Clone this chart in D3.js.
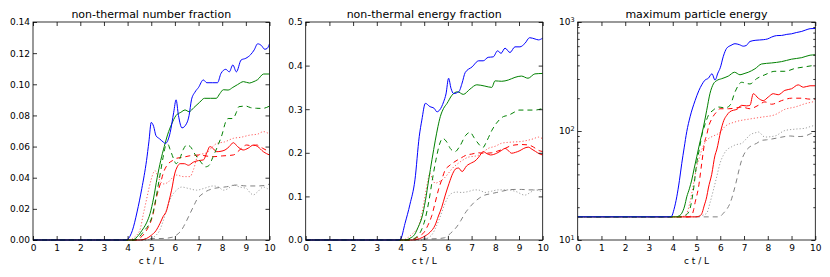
<!DOCTYPE html>
<html><head><meta charset="utf-8">
<script src="https://cdn.jsdelivr.net/npm/d3@7"></script>
<style>
html,body{margin:0;padding:0;background:#fff;}
svg{display:block;font-family:"DejaVu Sans",sans-serif;}
</style></head>
<body>
<svg id="chart" width="830" height="277"></svg>
<script>
// ---------- data: [c t / L, value] ----------
// Panel 1: non-thermal number fraction
const nfBlue = [[0,0],[3.9,0],[4.0,0.0005],[4.2,0.006],[4.4,0.018],[4.6,0.033],[4.8,0.051],[4.9,0.063],[5.0,0.0755],[5.1,0.073],[5.2,0.067],[5.35,0.065],[5.5,0.063],[5.6,0.062],[5.8,0.069],[5.95,0.082],[6.05,0.090],[6.15,0.080],[6.3,0.072],[6.5,0.075],[6.6,0.080],[6.7,0.090],[6.85,0.095],[7.0,0.098],[7.2,0.1028],[7.35,0.101],[7.6,0.101],[7.8,0.101],[7.95,0.107],[8.15,0.1096],[8.3,0.108],[8.45,0.1124],[8.6,0.108],[8.8,0.1156],[9.0,0.1167],[9.2,0.119],[9.35,0.122],[9.5,0.126],[9.65,0.125],[9.8,0.1225],[9.9,0.123],[10,0.126]];
const nfGreen = [[0,0],[4.2,0],[4.4,0.002],[4.6,0.006],[4.8,0.011],[4.95,0.017],[5.1,0.027],[5.25,0.040],[5.4,0.051],[5.55,0.060],[5.7,0.068],[5.85,0.074],[6.05,0.080],[6.25,0.082],[6.43,0.0835],[6.6,0.0824],[6.8,0.085],[7.05,0.0885],[7.25,0.091],[7.5,0.091],[7.75,0.091],[7.9,0.094],[8.05,0.0965],[8.25,0.0963],[8.45,0.098],[8.65,0.0998],[8.9,0.1017],[9.15,0.1008],[9.3,0.1015],[9.5,0.103],[9.75,0.1066],[10,0.1066]];
const nfGreenDash = [[0,0],[4.3,0],[4.5,0.002],[4.7,0.006],[4.9,0.010],[5.05,0.016],[5.2,0.027],[5.35,0.040],[5.5,0.053],[5.6,0.060],[5.7,0.0615],[5.8,0.058],[5.95,0.052],[6.05,0.049],[6.2,0.052],[6.35,0.058],[6.5,0.061],[6.65,0.060],[6.85,0.055],[7.1,0.050],[7.3,0.047],[7.45,0.048],[7.6,0.053],[7.8,0.060],[8.0,0.068],[8.15,0.076],[8.25,0.078],[8.45,0.078],[8.6,0.082],[8.7,0.0856],[9.0,0.086],[9.2,0.085],[9.45,0.0846],[9.7,0.0845],[10,0.086]];
const nfRed = [[0,0],[4.5,0],[4.8,0.001],[5.0,0.003],[5.2,0.006],[5.37,0.0107],[5.5,0.015],[5.65,0.019],[5.75,0.025],[5.86,0.032],[6.0,0.043],[6.1,0.047],[6.22,0.049],[6.4,0.049],[6.57,0.048],[6.78,0.050],[7.0,0.051],[7.2,0.0514],[7.35,0.056],[7.48,0.060],[7.6,0.059],[7.77,0.0567],[7.95,0.057],[8.12,0.0578],[8.3,0.060],[8.47,0.0625],[8.65,0.060],[8.89,0.0578],[9.1,0.059],[9.32,0.061],[9.5,0.060],[9.74,0.0567],[10,0.0546]];
const nfRedDash = [[0,0],[4.3,0],[4.5,0.001],[4.7,0.004],[4.9,0.009],[5.05,0.015],[5.23,0.028],[5.4,0.037],[5.51,0.043],[5.72,0.049],[5.9,0.051],[6.07,0.0525],[6.3,0.053],[6.6,0.054],[7.06,0.0546],[7.3,0.054],[7.62,0.0535],[8.0,0.054],[8.47,0.0546],[8.75,0.058],[9.03,0.061],[9.25,0.0605],[9.46,0.061],[9.7,0.059],[10,0.0567]];
const nfRedDot = [[0,0],[4.1,0],[4.3,0.002],[4.52,0.0064],[4.67,0.017],[4.8,0.026],[4.9,0.033],[5.0,0.039],[5.1,0.0435],[5.16,0.0445],[5.3,0.040],[5.51,0.036],[5.7,0.037],[5.9,0.040],[6.07,0.0417],[6.36,0.0407],[6.64,0.0407],[6.78,0.045],[6.99,0.0546],[7.34,0.056],[7.6,0.060],[7.77,0.062],[8.1,0.063],[8.47,0.0653],[8.8,0.066],[9.18,0.0674],[9.5,0.068],[9.74,0.0696],[10,0.068]];
const nfGrayDash = [[0,0],[4.6,0],[4.8,0.0008],[5.5,0.001],[5.9,0.0018],[6.05,0.003],[6.28,0.0064],[6.45,0.011],[6.64,0.017],[6.8,0.022],[6.92,0.0257],[7.2,0.030],[7.62,0.033],[8.19,0.0342],[8.61,0.0353],[9.03,0.0347],[9.46,0.0347],[9.8,0.035],[10,0.036]];
const nfGrayDot = [[0,0],[4.8,0],[5.0,0.001],[5.2,0.003],[5.35,0.006],[5.5,0.012],[5.7,0.022],[5.86,0.028],[6.07,0.032],[6.28,0.034],[6.6,0.033],[6.92,0.032],[7.2,0.033],[7.62,0.0347],[7.85,0.034],[8.05,0.032],[8.25,0.033],[8.47,0.0353],[8.75,0.034],[9.03,0.033],[9.2,0.030],[9.32,0.029],[9.5,0.031],[9.74,0.034],[10,0.032]];

// Panel 2: non-thermal energy fraction
const efBlue = [[0,0],[3.9,0],[4.0,0.002],[4.19,0.038],[4.4,0.082],[4.61,0.138],[4.79,0.237],[4.9,0.275],[5.05,0.3135],[5.24,0.306],[5.42,0.302],[5.54,0.294],[5.65,0.298],[5.82,0.317],[5.92,0.335],[6.03,0.371],[6.13,0.348],[6.24,0.336],[6.46,0.340],[6.6,0.36],[6.73,0.384],[7.02,0.397],[7.3,0.411],[7.49,0.411],[7.7,0.419],[7.91,0.420],[8.1,0.434],[8.24,0.428],[8.41,0.44],[8.62,0.43],[8.83,0.443],[9.04,0.443],[9.25,0.451],[9.45,0.464],[9.68,0.461],[9.82,0.459],[10,0.463]];
const efGreen = [[0,0],[4.2,0],[4.4,0.004],[4.6,0.013],[4.75,0.03],[4.91,0.053],[5.05,0.09],[5.19,0.138],[5.33,0.185],[5.47,0.229],[5.58,0.26],[5.68,0.283],[5.82,0.302],[5.96,0.313],[6.17,0.332],[6.41,0.340],[6.65,0.334],[6.93,0.346],[7.22,0.356],[7.56,0.353],[7.85,0.350],[7.99,0.365],[8.27,0.364],[8.55,0.367],[8.83,0.373],[9.1,0.376],[9.38,0.371],[9.67,0.381],[10,0.382]];
const efGreenDash = [[0,0],[4.35,0],[4.5,0.002],[4.7,0.008],[4.9,0.025],[5.05,0.05],[5.2,0.09],[5.35,0.14],[5.5,0.185],[5.65,0.22],[5.78,0.233],[5.95,0.225],[6.1,0.21],[6.3,0.2026],[6.5,0.215],[6.75,0.24],[6.94,0.247],[7.1,0.235],[7.3,0.22],[7.47,0.212],[7.65,0.228],[7.86,0.252],[8.05,0.268],[8.34,0.283],[8.55,0.286],[8.83,0.294],[9.0,0.298],[9.25,0.298],[9.67,0.298],[10,0.302]];
const efRed = [[0,0],[4.5,0],[4.8,0.003],[5.03,0.009],[5.25,0.018],[5.46,0.034],[5.6,0.055],[5.74,0.075],[5.89,0.103],[6.05,0.13],[6.2,0.152],[6.35,0.164],[6.45,0.165],[6.6,0.157],[6.79,0.170],[7.0,0.177],[7.14,0.181],[7.3,0.19],[7.49,0.2026],[7.65,0.198],[7.8,0.195],[8.06,0.199],[8.25,0.205],[8.41,0.210],[8.55,0.205],[8.69,0.199],[8.85,0.201],[9.04,0.205],[9.2,0.21],[9.39,0.213],[9.55,0.208],[9.7,0.203],[9.85,0.198],[10,0.195]];
const efRedDash = [[0,0],[4.4,0],[4.6,0.003],[4.8,0.009],[5.0,0.018],[5.15,0.033],[5.32,0.056],[5.46,0.085],[5.6,0.115],[5.75,0.14],[5.88,0.16],[6.05,0.17],[6.3,0.18],[6.55,0.188],[6.79,0.195],[7.0,0.197],[7.28,0.2],[7.55,0.199],[7.85,0.2],[8.1,0.204],[8.41,0.210],[8.6,0.215],[8.83,0.218],[9.1,0.219],[9.39,0.218],[9.55,0.215],[9.7,0.21],[9.85,0.205],[10,0.203]];
const efRedDot = [[0,0],[4.1,0],[4.3,0.005],[4.5,0.014],[4.65,0.022],[4.75,0.030],[4.9,0.06],[5.03,0.099],[5.15,0.135],[5.24,0.153],[5.35,0.14],[5.46,0.13],[5.6,0.133],[5.74,0.137],[5.9,0.145],[6.02,0.153],[6.2,0.165],[6.44,0.176],[6.65,0.184],[6.86,0.190],[7.1,0.192],[7.28,0.194],[7.5,0.202],[7.7,0.21],[8.0,0.215],[8.27,0.222],[8.55,0.224],[8.83,0.225],[9.1,0.226],[9.39,0.229],[9.6,0.232],[9.82,0.236],[10,0.232]];
const efGrayDash = [[0,0],[4.6,0],[4.8,0.002],[5.5,0.003],[5.85,0.005],[6.02,0.011],[6.2,0.02],[6.37,0.030],[6.55,0.045],[6.72,0.061],[6.9,0.074],[7.14,0.088],[7.35,0.097],[7.56,0.103],[7.8,0.106],[8.06,0.109],[8.3,0.112],[8.55,0.115],[8.83,0.116],[9.11,0.116],[9.4,0.115],[9.68,0.115],[10,0.116]];
const efGrayDot = [[0,0],[4.8,0],[5.0,0.002],[5.2,0.006],[5.35,0.014],[5.5,0.03],[5.65,0.05],[5.75,0.065],[5.88,0.084],[6.0,0.098],[6.16,0.107],[6.37,0.11],[6.58,0.109],[6.85,0.111],[7.14,0.115],[7.35,0.114],[7.56,0.109],[7.85,0.112],[8.13,0.115],[8.55,0.115],[8.75,0.113],[8.97,0.109],[9.1,0.105],[9.25,0.103],[9.45,0.108],[9.68,0.115],[9.85,0.113],[10,0.110]];

// Panel 3: maximum particle energy (log scale)
const meBlue = [[0,16.3],[3.85,16.3],[3.95,16.5],[4.05,19],[4.17,24.9],[4.28,35],[4.38,50.5],[4.48,70],[4.59,98.6],[4.73,135],[4.94,190],[5.1,235],[5.22,265],[5.35,292],[5.5,305],[5.65,335],[5.78,293],[5.9,340],[6.0,380],[6.13,485],[6.27,574],[6.45,610],[6.62,632],[6.8,620],[6.97,600],[7.1,610],[7.25,663],[7.5,680],[7.81,688],[8.0,700],[8.16,727],[8.37,750],[8.58,753],[8.8,770],[9.0,779],[9.2,800],[9.43,820],[9.6,845],[9.78,868],[10,872]];
const meGreen = [[0,16.3],[4.15,16.3],[4.25,16.6],[4.38,17.6],[4.5,20.5],[4.59,24.9],[4.7,29.5],[4.8,35.5],[4.9,45],[5.01,58],[5.15,80],[5.29,108],[5.43,155],[5.57,222],[5.71,270],[5.85,290],[6.06,302],[6.34,319],[6.6,346],[6.83,328],[7.0,336],[7.18,346],[7.46,372],[7.74,412],[8.16,421],[8.58,433],[9.0,456],[9.43,471],[9.78,496],[10,500]];
const meGreenDash = [[0,16.3],[4.35,16.3],[4.5,16.7],[4.6,17.2],[4.73,19.5],[4.87,28.7],[5.01,50.5],[5.12,68],[5.22,90],[5.36,115],[5.5,139],[5.7,155],[5.92,166],[6.2,163],[6.41,172],[6.62,228],[6.9,280],[7.05,275],[7.25,270],[7.53,302],[7.88,328],[8.3,353],[8.72,353],[9.15,375],[9.57,388],[10,402]];
const meRed = [[0,16.3],[4.95,16.3],[5.1,16.5],[5.22,17.4],[5.32,20.5],[5.43,24.9],[5.5,30],[5.64,40],[5.78,60],[5.85,67],[6.02,100],[6.15,125],[6.27,139],[6.4,150],[6.55,155],[6.7,158],[6.9,172],[7.1,170],[7.25,172],[7.39,220],[7.6,200],[7.81,190],[8.02,205],[8.23,220],[8.44,215],[8.72,236],[9.0,244],[9.28,265],[9.5,252],[9.78,260],[10,260]];
const meRedDash = [[0,16.3],[4.65,16.3],[4.8,16.8],[4.88,19],[4.94,22],[5.08,30],[5.22,50.5],[5.36,82],[5.43,92],[5.5,108],[5.64,129],[5.85,150],[5.99,160],[6.34,160],[6.62,162],[6.9,166],[7.25,160],[7.6,172],[7.88,185],[8.16,176],[8.58,190],[9.0,200],[9.43,200],[9.78,196],[10,196]];
const meRedDot = [[0,16.3],[4.4,16.3],[4.5,16.8],[4.59,17.6],[4.7,21],[4.8,26.8],[4.9,35],[5.01,47],[5.12,57],[5.22,67],[5.35,78],[5.5,85],[5.71,90],[5.99,97],[6.2,110],[6.62,121],[7.25,129],[7.74,134],[8.3,141],[8.72,158],[9.15,166],[9.57,178],[10,187]];
const meGrayDash = [[0,16.3],[5.9,16.3],[6.02,16.6],[6.13,17.6],[6.3,19.5],[6.41,21.7],[6.55,27],[6.69,35.5],[6.8,45],[6.9,54],[7.11,67],[7.3,73],[7.53,77],[7.74,82],[7.95,83],[8.37,86],[8.6,88],[8.94,90],[9.2,89],[9.36,89],[9.57,90],[9.78,94],[10,98]];
const meGrayDot = [[0,16.3],[4.95,16.3],[5.1,16.5],[5.3,17],[5.43,17.6],[5.57,22],[5.71,28.7],[5.85,38],[5.99,50.5],[6.13,60],[6.27,67],[6.45,71],[6.62,74.4],[6.9,77],[7.1,85],[7.25,92],[7.53,97],[7.6,98],[7.88,88],[8.3,90],[8.72,101],[9.15,104],[9.57,106],[9.8,110],[10,113]];

// ticks / labels
const titles = ["non-thermal number fraction","non-thermal energy fraction","maximum particle energy"];
const xTicks = [0,1,2,3,4,5,6,7,8,9,10];
const yTicks1 = [0,0.02,0.04,0.06,0.08,0.10,0.12,0.14];
const yTicks2 = [0,0.1,0.2,0.3,0.4,0.5];
const yTicks3 = [10,100,1000];
const xLabel = "c t / L";

// styles per series key
const styles = {
  blue:{stroke:"#0000ff",dash:null},
  green:{stroke:"#008000",dash:null},
  greenDash:{stroke:"#008000",dash:"5,4"},
  red:{stroke:"#ff0000",dash:null},
  redDash:{stroke:"#ff0000",dash:"5,4"},
  redDot:{stroke:"#ff5c5c",dash:"1.2,2"},
  grayDash:{stroke:"#808080",dash:"5,4"},
  grayDot:{stroke:"#a0a0a0",dash:"1.2,2"}
};

const panels = [
  {x0:33, x1:269.5, title:titles[0], yDomain:[0,0.14], ticks:yTicks1, fmt:d3.format(".2f"), log:false,
   series:{grayDot:nfGrayDot,grayDash:nfGrayDash,redDot:nfRedDot,redDash:nfRedDash,red:nfRed,greenDash:nfGreenDash,green:nfGreen,blue:nfBlue}},
  {x0:305.7, x1:542.7, title:titles[1], yDomain:[0,0.5], ticks:yTicks2, fmt:d3.format(".1f"), log:false,
   series:{grayDot:efGrayDot,grayDash:efGrayDash,redDot:efRedDot,redDash:efRedDash,red:efRed,greenDash:efGreenDash,green:efGreen,blue:efBlue}},
  {x0:577.7, x1:815.3, title:titles[2], yDomain:[10,1000], ticks:yTicks3, fmt:null, log:true,
   series:{grayDot:meGrayDot,grayDash:meGrayDash,redDot:meRedDot,redDash:meRedDash,red:meRed,greenDash:meGreenDash,green:meGreen,blue:meBlue}}
];

const plotTop = 22, plotBottom = 240;
const svg = d3.select("#chart");

panels.forEach((p,i)=>{
  const x = d3.scaleLinear().domain([0,10]).range([p.x0,p.x1]);
  const y = p.log ? d3.scaleLog().domain(p.yDomain).range([plotBottom,plotTop])
                  : d3.scaleLinear().domain(p.yDomain).range([plotBottom,plotTop]);
  const g = svg.append("g");
  const clipId = "clip"+i;
  svg.append("clipPath").attr("id",clipId).append("rect")
    .attr("x",p.x0).attr("y",plotTop-1).attr("width",p.x1-p.x0).attr("height",plotBottom-plotTop+2);

  const line = d3.line().x(d=>x(d[0])).y(d=>y(d[1])).curve(d3.curveMonotoneX);
  const lg = g.append("g").attr("clip-path",`url(#${clipId})`);
  Object.entries(p.series).forEach(([k,data])=>{
    const s = styles[k];
    lg.append("path").datum(data).attr("d",line)
      .attr("fill","none").attr("stroke",s.stroke).attr("stroke-width",1)
      .attr("stroke-dasharray",s.dash);
  });

  const tickLen = 4, minorLen = 2;
  const axB = d3.axisBottom(x).tickValues(xTicks).tickSizeInner(-tickLen).tickSizeOuter(0).tickPadding(5).tickFormat(d3.format("d"));
  const axT = d3.axisTop(x).tickValues(xTicks).tickSizeInner(-tickLen).tickSizeOuter(0).tickFormat("");
  const gb = g.append("g").attr("transform",`translate(0,${plotBottom})`).call(axB);
  const gt = g.append("g").attr("transform",`translate(0,${plotTop})`).call(axT);

  const axL = d3.axisLeft(y).tickValues(p.ticks).tickSizeInner(-tickLen).tickSizeOuter(0).tickPadding(3)
      .tickFormat(p.log ? "" : p.fmt);
  const axR = d3.axisRight(y).tickValues(p.ticks).tickSizeInner(-tickLen).tickSizeOuter(0).tickFormat("");
  const gl = g.append("g").attr("transform",`translate(${p.x0},0)`).call(axL);
  const gr = g.append("g").attr("transform",`translate(${p.x1},0)`).call(axR);

  if(p.log){
    const minors = [];
    [10,100].forEach(dec=>{ for(let m=2;m<=9;m++) minors.push(dec*m); });
    const axLm = d3.axisLeft(y).tickValues(minors).tickSizeInner(-minorLen).tickSizeOuter(0).tickFormat("");
    const axRm = d3.axisRight(y).tickValues(minors).tickSizeInner(-minorLen).tickSizeOuter(0).tickFormat("");
    const gm1 = g.append("g").attr("transform",`translate(${p.x0},0)`).call(axLm);
    const gm2 = g.append("g").attr("transform",`translate(${p.x1},0)`).call(axRm);
    gm1.select(".domain").remove(); gm2.select(".domain").remove();
    gl.selectAll(".tick").each(function(d){
      const t = d3.select(this).append("text").attr("x",-3).attr("dy","0.32em")
        .attr("text-anchor","end").attr("fill","#000").attr("font-size","9px");
      const e = Math.round(Math.log10(d));
      t.append("tspan").text("10");
      t.append("tspan").attr("dy","-0.45em").attr("font-size","6.5px").text(e);
    });
  }

  [gb,gt,gl,gr].forEach(a=>{ a.selectAll(".domain").remove(); });
  g.selectAll(".tick line").attr("stroke","#000").attr("stroke-width",0.8);
  g.selectAll(".tick text").attr("font-family","DejaVu Sans, sans-serif").attr("fill","#000");
  gb.selectAll(".tick text").attr("font-size","9px");
  if(!p.log) gl.selectAll(".tick text").attr("font-size","9px");

  g.append("rect").attr("x",p.x0).attr("y",plotTop).attr("width",p.x1-p.x0).attr("height",plotBottom-plotTop)
    .attr("fill","none").attr("stroke","#000").attr("stroke-width",0.8);

  g.append("text").attr("x",(p.x0+p.x1)/2).attr("y",17.5).attr("text-anchor","middle")
    .attr("font-size","11px").attr("fill","#000").text(p.title);
  g.append("text").attr("x",(p.x0+p.x1)/2).attr("y",263.5).attr("text-anchor","middle")
    .attr("font-size","9px").attr("fill","#000").text(xLabel);
});
</script>
</body></html>
